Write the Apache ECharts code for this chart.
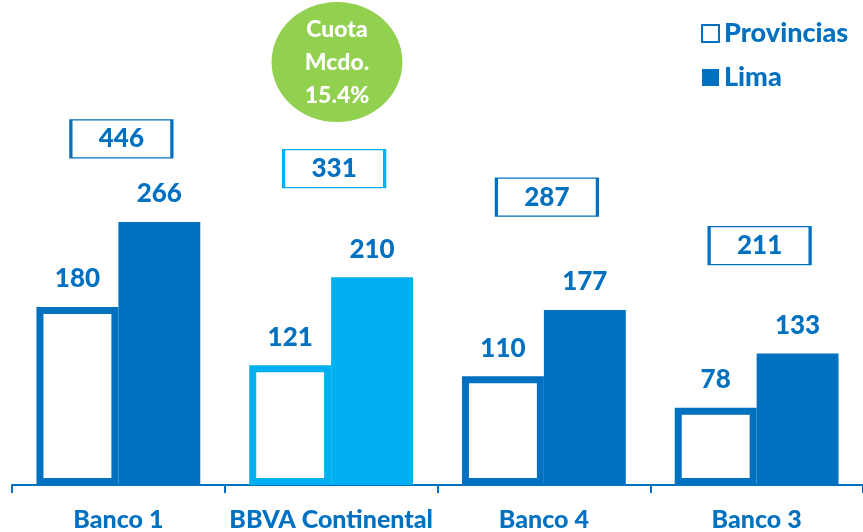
<!DOCTYPE html>
<html>
<head>
<meta charset="utf-8">
<script src="https://cdn.jsdelivr.net/npm/echarts@6/dist/echarts.min.js"></script>
<style>
  html, body { margin: 0; padding: 0; background: #fff; }
  #echart_main { width: 863px; height: 532px; }
</style>
</head>
<body>
<div id="echart_main"></div>
<script>
// datos
var bancos = ['Banco 1', 'BBVA Continental', 'Banco 4', 'Banco 3'];
var provincias = [180, 121, 110, 78];
var lima = [266, 210, 177, 133];
var totales = [446, 331, 287, 211];
var cuotaMcdo = '15.4%';
// altura (en unidades del eje) donde va la caja del total
var nivelCaja = [350, 320, 291, 242];

var azul = '#0070C0';
var celeste = '#00B0F0';
var colores = [azul, celeste, azul, azul];
var fuente = 'Lato';

var myChart = echarts.init(document.getElementById('echart_main'));

var provData = provincias.map(function (v, i) {
    return { value: v, itemStyle: { color: '#fff', borderColor: colores[i], borderWidth: 7 } };
});
var limaData = lima.map(function (v, i) {
    return { value: v, itemStyle: { color: colores[i] } };
});
var totalData = totales.map(function (v, i) {
    return { value: [bancos[i], nivelCaja[i]], total: v, itemStyle: { borderColor: colores[i] } };
});

var etiqueta = {
    show: true,
    position: 'top',
    distance: 15,
    color: azul,
    fontSize: 26,
    fontWeight: 900,
    fontFamily: fuente
};

option = {
    animation: false,
    legend: {
        orient: 'vertical',
        left: 696,
        top: 15,
        itemWidth: 17,
        itemHeight: 17,
        itemGap: 17,
        icon: 'rect',
        data: [
            { name: 'Provincias', itemStyle: { color: '#fff', borderColor: azul, borderWidth: 2 } },
            { name: 'Lima', itemStyle: { color: azul } }
        ],
        textStyle: { color: azul, fontSize: 27, fontWeight: 900, fontFamily: fuente, padding: [0, 0, 0, 0] }
    },
    grid: {
        left: 12,
        right: 0,
        top: 40,
        bottom: 47
    },
    xAxis: {
        type: 'category',
        data: bancos,
        axisLine: { lineStyle: { color: azul, width: 2 } },
        axisTick: { show: true, interval: 0, length: 8, lineStyle: { color: azul, width: 2 } },
        axisLabel: { interval: 0, color: azul, fontSize: 25, fontWeight: 900, fontFamily: fuente, margin: 22 }
    },
    yAxis: {
        type: 'value',
        min: 0,
        max: 450,
        show: false
    },
    series: [
        {
            name: 'Provincias',
            type: 'bar',
            data: provData,
            barGap: '0%',
            barCategoryGap: '23%',
            itemStyle: { color: '#fff', borderColor: azul, borderWidth: 7 },
            label: etiqueta
        },
        {
            name: 'Lima',
            type: 'bar',
            data: limaData,
            itemStyle: { color: azul },
            label: etiqueta
        },
        {
            name: 'Total',
            type: 'scatter',
            data: totalData,
            symbol: 'rect',
            symbolSize: [101, 38],
            symbolOffset: [3, 0],
            itemStyle: { color: '#fff', borderWidth: 2, opacity: 1 },
            label: {
                show: true,
                position: 'inside',
                formatter: function (p) { return p.data.total; },
                color: azul,
                fontSize: 26,
                fontWeight: 900,
                fontFamily: fuente
            },
            z: 5
        }
    ],
    graphic: [
        {
            type: 'circle',
            shape: { cx: 0, cy: 0, r: 60 },
            x: 337,
            y: 62,
            scaleX: 1.09,
            style: { fill: '#92D050' }
        },
        {
            type: 'text',
            x: 337,
            y: 63,
            style: {
                text: 'Cuota\nMcdo.\n' + cuotaMcdo,
                fill: '#fff',
                font: '900 23px Lato',
                lineHeight: 33,
                align: 'center',
                verticalAlign: 'middle'
            }
        }
    ]
};
myChart.setOption(option);
window.onresize = function () {
    myChart.resize();
}
</script>
</body>
</html>
